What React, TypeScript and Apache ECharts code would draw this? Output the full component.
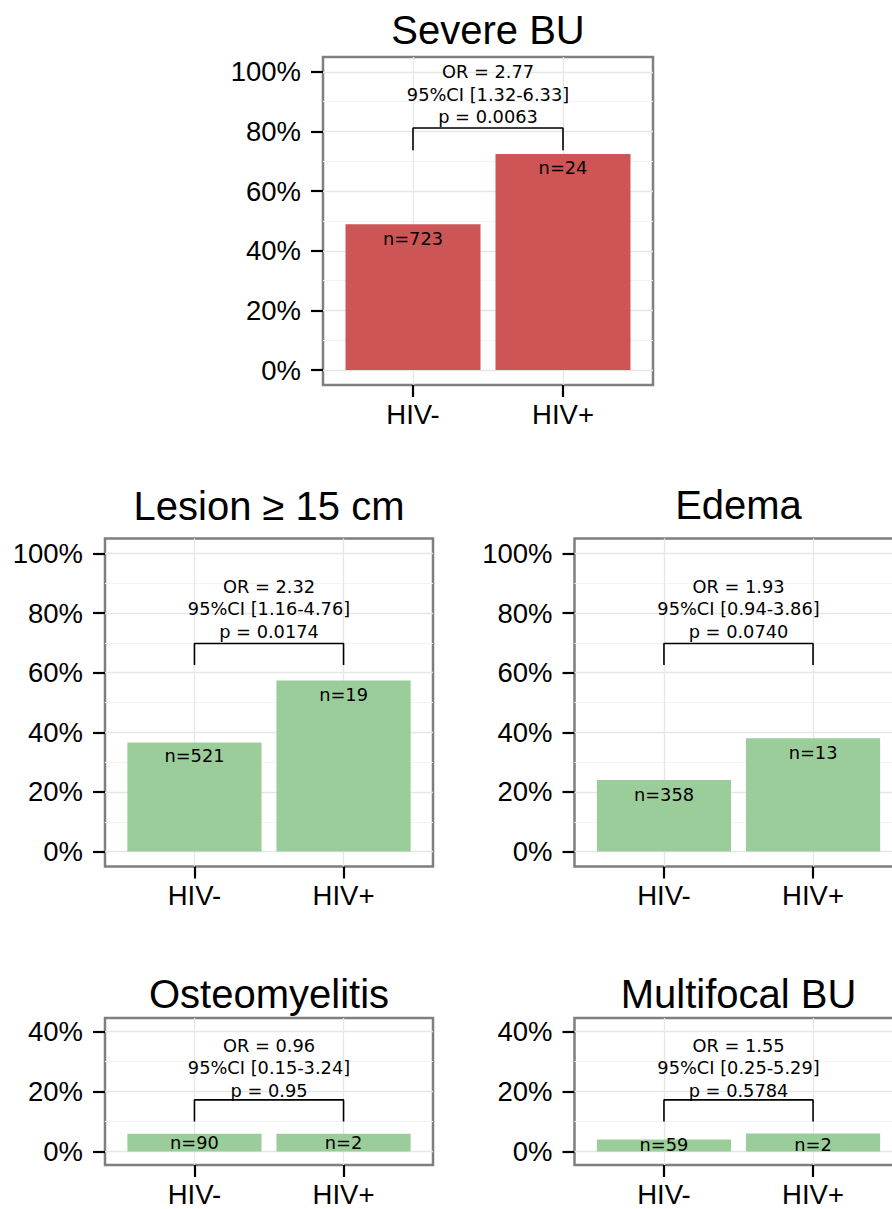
import React, { useEffect, useRef } from 'react';
import * as echarts from 'echarts';

// ---------- data ----------
const categories = ['HIV-', 'HIV+'];
const panelTitles = ['Severe BU', 'Lesion \u2265 15 cm', 'Edema', 'Osteomyelitis', 'Multifocal BU'];
const percentValues = [
  [48.9, 72.5],
  [36.6, 57.4],
  [24.0, 38.0],
  [5.9, 5.9],
  [4.0, 6.0],
];
const countLabels = [
  [723, 24],
  [521, 19],
  [358, 13],
  [90, 2],
  [59, 2],
];
const countLabelY = [
  [44.1, 67.8],
  [32.2, 52.6],
  [19.1, 33.1],
  [2.9, 2.9],
  [2.5, 2.5],
];
const oddsRatios = ['2.77', '2.32', '1.93', '0.96', '1.55'];
const ciLow = ['1.32', '1.16', '0.94', '0.15', '0.25'];
const ciHigh = ['6.33', '4.76', '3.86', '3.24', '5.29'];
const pValues = ['0.0063', '0.0174', '0.0740', '0.95', '0.5784'];
const bracketTopY = [81.2, 69.8, 69.8, 17.2, 17.2];
const bracketLegY = [73.7, 62.6, 62.6, 10, 10];
const annotationY = [92.5, 81.4, 81.4, 28, 28];
const yMajorTicks = [
  [0, 20, 40, 60, 80, 100],
  [0, 20, 40, 60, 80, 100],
  [0, 20, 40, 60, 80, 100],
  [0, 20, 40],
  [0, 20, 40],
];
const yMinorTicks = [
  [10, 30, 50, 70, 90],
  [10, 30, 50, 70, 90],
  [10, 30, 50, 70, 90],
  [10, 30],
  [10, 30],
];
const yRanges = [
  [-5, 105],
  [-5, 105],
  [-5, 105],
  [-4.5, 44.5],
  [-4.5, 44.5],
];
const xRange = [0.4, 2.6];

// ---------- layout & style ----------
const panelBoxes = [
  { left: 323, top: 57, width: 330, height: 328 },
  { left: 105, top: 538.5, width: 328, height: 328 },
  { left: 574.5, top: 538.5, width: 328, height: 328 },
  { left: 105, top: 1018, width: 328, height: 147 },
  { left: 574.5, top: 1018, width: 328, height: 147 },
];
const titlePos = [
  { x: 488, y: 30 },
  { x: 269, y: 506 },
  { x: 738.5, y: 505 },
  { x: 269, y: 993.5 },
  { x: 738.5, y: 993.5 },
];
const barColors = ['#CD5555', '#9BCD9B', '#9BCD9B', '#9BCD9B', '#9BCD9B'];
const SANS = 'Liberation Sans, Arial, sans-serif';
const DEJAVU = 'DejaVu Sans, sans-serif';

function buildOption() {
  const grid: any[] = [];
  const xAxis: any[] = [];
  const yAxis: any[] = [];
  const series: any[] = [];
  const graphic: any[] = [];

  panelBoxes.forEach((box, i) => {
    grid.push({
      left: box.left,
      top: box.top,
      width: box.width,
      height: box.height,
      show: true,
      backgroundColor: '#ffffff',
      borderColor: '#7f7f7f',
      borderWidth: 2.5,
      containLabel: false,
      outerBoundsMode: 'none',
    });
    xAxis.push({
      type: 'value',
      gridIndex: i,
      min: xRange[0],
      max: xRange[1],
      axisLine: { show: false, onZero: false },
      splitLine: { show: false },
      axisTick: {
        show: true,
        customValues: [1, 2],
        length: 12,
        lineStyle: { color: '#000', width: 2.2 },
      },
      axisLabel: {
        show: true,
        customValues: [1, 2],
        formatter: (v: number) => categories[Math.round(v) - 1] ?? '',
        fontSize: 27.5,
        fontFamily: SANS,
        color: '#000',
        margin: 15,
      },
    });
    yAxis.push({
      type: 'value',
      gridIndex: i,
      min: yRanges[i][0],
      max: yRanges[i][1],
      axisLine: { show: false, onZero: false },
      splitLine: { show: false },
      axisTick: {
        show: true,
        customValues: yMajorTicks[i],
        length: 12,
        lineStyle: { color: '#000', width: 2.2 },
      },
      axisLabel: {
        show: true,
        customValues: yMajorTicks[i],
        formatter: (v: number) => `${v}%`,
        fontSize: 27.5,
        fontFamily: SANS,
        color: '#000',
        margin: 22,
      },
    });

    const gridLines: any[] = [];
    yMinorTicks[i].forEach((v) =>
      gridLines.push({ yAxis: v, lineStyle: { color: '#f3f3f3', width: 1.2, type: 'solid' } })
    );
    yMajorTicks[i].forEach((v) =>
      gridLines.push({ yAxis: v, lineStyle: { color: '#e6e6e6', width: 1.3, type: 'solid' } })
    );
    [1, 2].forEach((v) =>
      gridLines.push({ xAxis: v, lineStyle: { color: '#e6e6e6', width: 1.3, type: 'solid' } })
    );

    const barWidth = (box.width / (xRange[1] - xRange[0])) * 0.9;

    series.push({
      type: 'bar',
      xAxisIndex: i,
      yAxisIndex: i,
      barWidth,
      z: 3,
      itemStyle: { color: barColors[i] },
      data: categories.map((_, j) => [j + 1, percentValues[i][j]]),
      markLine: {
        silent: true,
        symbol: ['none', 'none'],
        z: 1,
        label: { show: false },
        emphasis: { disabled: true },
        data: gridLines,
      },
    });

    series.push({
      type: 'line',
      xAxisIndex: i,
      yAxisIndex: i,
      symbol: 'none',
      z: 4,
      lineStyle: { color: '#000', width: 1.6 },
      data: [
        [1, bracketLegY[i]],
        [1, bracketTopY[i]],
        [2, bracketTopY[i]],
        [2, bracketLegY[i]],
      ],
    });

    series.push({
      type: 'scatter',
      xAxisIndex: i,
      yAxisIndex: i,
      symbolSize: 0,
      z: 5,
      itemStyle: { opacity: 1 },
      label: {
        show: true,
        position: 'inside',
        fontSize: 17.8,
        fontFamily: DEJAVU,
        color: '#000',
        opacity: 1,
        formatter: (p: any) => `n=${countLabels[i][p.dataIndex]}`,
      },
      data: categories.map((_, j) => [j + 1, countLabelY[i][j]]),
    });

    series.push({
      type: 'scatter',
      xAxisIndex: i,
      yAxisIndex: i,
      symbolSize: 0,
      z: 5,
      itemStyle: { opacity: 1 },
      label: {
        show: true,
        position: 'inside',
        fontSize: 17.8,
        lineHeight: 22.5,
        fontFamily: DEJAVU,
        color: '#000',
        opacity: 1,
        align: 'center',
        formatter: () =>
          `OR = ${oddsRatios[i]}\n95%CI [${ciLow[i]}-${ciHigh[i]}]\np = ${pValues[i]}`,
      },
      data: [[1.5, annotationY[i]]],
    });

    graphic.push({
      type: 'text',
      x: titlePos[i].x,
      y: titlePos[i].y,
      style: {
        text: panelTitles[i],
        fontSize: 40,
        fontFamily: SANS,
        fill: '#000',
        align: 'center',
        verticalAlign: 'middle',
      },
    });
  });

  return {
    animation: false,
    backgroundColor: '#ffffff',
    grid,
    xAxis,
    yAxis,
    series,
    graphic,
  };
}

export default function App() {
  const ref = useRef<HTMLDivElement>(null);
  useEffect(() => {
    if (!ref.current) return;
    const chart = echarts.init(ref.current, undefined, { renderer: 'svg' });
    chart.setOption(buildOption() as any);
    return () => chart.dispose();
  }, []);
  return (
    <div
      ref={ref}
      style={{ position: 'absolute', left: 0, top: 0, width: 892, height: 1209, background: '#fff' }}
    />
  );
}
